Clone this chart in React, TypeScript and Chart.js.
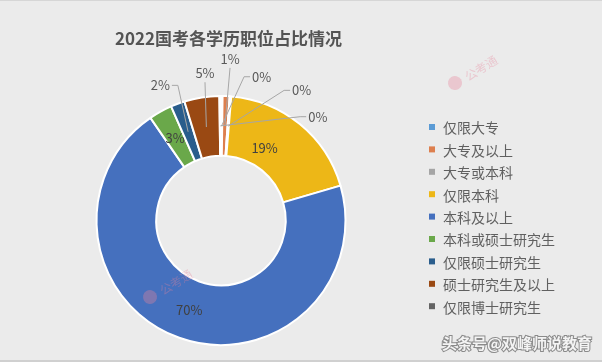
import React, { useEffect, useRef } from "react";
import { Chart, registerables } from "chart.js";
Chart.register(...registerables);

const TITLE = "2022国考各学历职位占比情况";
const CATEGORIES = [
  "仅限大专",
  "大专及以上",
  "大专或本科",
  "仅限本科",
  "本科及以上",
  "本科或硕士研究生",
  "仅限硕士研究生",
  "硕士研究生及以上",
  "仅限博士研究生",
];
const VALUES = [0.2, 0.9, 0.2, 19.0, 69.3, 3.0, 1.8, 4.5, 0.2];
const COLORS = [
  "#5B9BD5",
  "#DD7F4E",
  "#A5A5A5",
  "#EDB717",
  "#4570BE",
  "#6AA84A",
  "#2A5D8C",
  "#9A4913",
  "#636363",
];
const WATERMARK = "头条号@双峰师说教育";
const LOGO_TEXT = "公考通";

// label layout: clock angle (deg from top) and radius as a fraction of the outer radius; null = slice centroid
const LABEL_LAYOUT: ({ a: number; r: number } | null)[] = [
  { a: 15.8, r: 1.2 },
  { a: 3.2, r: 1.3 },
  { a: 31.8, r: 1.23 },
  { a: 31, r: 0.68 },
  null,
  null,
  { a: -24.2, r: 1.19 },
  { a: -6.2, r: 1.19 },
  { a: 43, r: 1.14 },
];

const FONT = "'Noto Sans CJK SC', 'Noto Sans', sans-serif";

const drawPlugin = {
  id: "customDraw",
  afterDatasetsDraw(chart: any) {
    const ctx = chart.ctx as CanvasRenderingContext2D;
    const meta = chart.getDatasetMeta(0);
    const data = chart.data.datasets[0].data as number[];
    const total = data.reduce((s, v) => s + v, 0);
    ctx.save();
    let cx = 0;
    meta.data.forEach((el: any, i: number) => {
      const p = el.getProps(["x", "y", "startAngle", "endAngle", "innerRadius", "outerRadius"], true);
      cx = p.x;
      const mid = (p.startAngle + p.endAngle) / 2;
      const rc = (p.innerRadius + p.outerRadius) / 2;
      const ax = p.x + Math.cos(mid) * rc;
      const ay = p.y + Math.sin(mid) * rc;
      const lay = LABEL_LAYOUT[i];
      let lx = ax;
      let ly = ay;
      if (lay) {
        const ang = ((lay.a - 90) * Math.PI) / 180;
        lx = p.x + Math.cos(ang) * lay.r * p.outerRadius;
        ly = p.y + Math.sin(ang) * lay.r * p.outerRadius;
      }
      const txt = Math.round((data[i] / total) * 100) + "%";
      const outside = lay && lay.r > 1;
      ctx.font = `13px ${FONT}`;
      const w = ctx.measureText(txt).width;
      if (outside) {
        ctx.strokeStyle = "#A6A6A6";
        ctx.lineWidth = 1;
        ctx.beginPath();
        if (lx - ax > 12) {
          const sx = lx - w / 2 - 2;
          ctx.moveTo(sx, ly);
          ctx.lineTo(sx - 6, ly);
          ctx.lineTo(ax, ay);
        } else if (ax - lx > 12) {
          const sx = lx + w / 2 + 2;
          ctx.moveTo(sx, ly);
          ctx.lineTo(sx + 6, ly);
          ctx.lineTo(ax, ay);
        } else {
          ctx.moveTo(lx, ly + 9);
          ctx.lineTo(ax, ay);
        }
        ctx.stroke();
      }
      ctx.fillStyle = outside ? "#595959" : "#404040";
      ctx.textAlign = "center";
      ctx.textBaseline = "middle";
      ctx.fillText(txt, lx, ly);
    });

    // title
    ctx.font = `bold 17px ${FONT}`;
    ctx.fillStyle = "#545454";
    ctx.textAlign = "center";
    ctx.textBaseline = "middle";
    ctx.fillText(TITLE, cx + 7.5, 38);

    // legend
    ctx.font = `14px ${FONT}`;
    ctx.textAlign = "left";
    CATEGORIES.forEach((c, i) => {
      const y = 126 + i * 22.4;
      ctx.fillStyle = COLORS[i];
      ctx.fillRect(429, y - 3, 6, 6);
      ctx.fillStyle = "#606060";
      ctx.fillText(c, 443, y + 1);
    });

    // watermarks
    ctx.globalAlpha = 0.35;
    ctx.fillStyle = "#E8849A";
    [[150, 296], [455, 82]].forEach(([x, y]) => {
      ctx.save();
      ctx.translate(x, y);
      ctx.rotate(-0.55);
      ctx.beginPath();
      ctx.arc(0, 0, 7, 0, Math.PI * 2);
      ctx.fill();
      ctx.font = `12px ${FONT}`;
      ctx.textAlign = "left";
      ctx.fillText(LOGO_TEXT, 12, 1);
      ctx.restore();
    });
    ctx.globalAlpha = 1;
    ctx.font = `bold 15px ${FONT}`;
    ctx.textAlign = "right";
    ctx.lineWidth = 2;
    ctx.strokeStyle = "#8a8a8a";
    ctx.strokeText(WATERMARK, 592, 342);
    ctx.fillStyle = "#F4F4F4";
    ctx.fillText(WATERMARK, 592, 342);
    ctx.restore();
  },
};

export default function App() {
  const ref = useRef<HTMLCanvasElement>(null);
  useEffect(() => {
    if (!ref.current) return;
    const chart = new Chart(ref.current, {
      type: "doughnut",
      data: {
        labels: CATEGORIES,
        datasets: [
          {
            data: VALUES,
            backgroundColor: COLORS,
            borderColor: "#FFFFFF",
            borderWidth: 2,
          },
        ],
      },
      options: {
        responsive: false,
        animation: false,
        cutout: "52%",
        layout: { padding: { left: 94, right: 254, top: 94, bottom: 14 } },
        plugins: {
          legend: { display: false },
          title: { display: false },
          tooltip: { enabled: false },
        },
      },
      plugins: [drawPlugin],
    });
    return () => chart.destroy();
  }, []);
  return (
    <div
      style={{
        position: "absolute",
        left: 0,
        top: 0,
        width: 602,
        height: 362,
        background: "#EBEBEB",
        boxSizing: "border-box",
        borderTop: "1px solid #D6D6D6",
        borderBottom: "2px solid #D0D0D0",
        overflow: "hidden",
      }}
    >
      <canvas ref={ref} width={602} height={359} style={{ display: "block" }} />
    </div>
  );
}
